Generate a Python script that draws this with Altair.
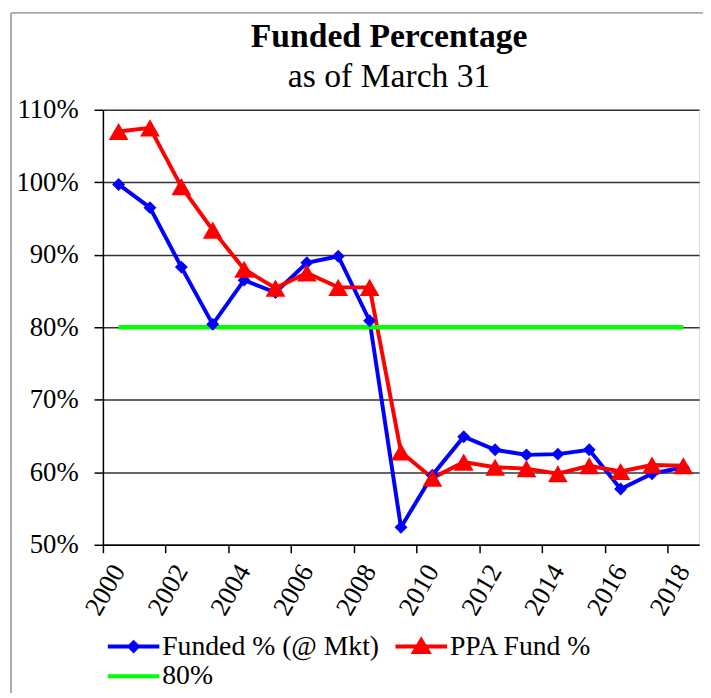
import altair as alt
import pandas as pd

# ---- data ----
years = [2000, 2001, 2002, 2003, 2004, 2005, 2006, 2007, 2008, 2009,
         2010, 2011, 2012, 2013, 2014, 2015, 2016, 2017, 2018]
funded_mkt = [99.7, 96.5, 88.3, 80.4, 86.5, 84.8, 88.9, 89.8, 80.9, 52.4,
              59.6, 64.9, 63.1, 62.4, 62.5, 63.1, 57.7, 59.8, 60.7]
ppa_fund = [107.0, 107.5, 99.4, 93.4, 88.0, 85.4, 87.5, 85.5, 85.5, 62.8,
            59.2, 61.4, 60.7, 60.5, 59.8, 60.9, 60.1, 61.0, 60.9]
target_80 = [80, 80, 80, 80, 80, 80, 80, 80, 80, 80,
             80, 80, 80, 80, 80, 80, 80, 80, 80]

series_names = ["Funded % (@ Mkt)", "PPA Fund %", "80%"]
series_colors = ["#0000FF", "#FF0000", "#00FF00"]
y_ticks = [50, 60, 70, 80, 90, 100, 110]
x_label_years = [2000, 2002, 2004, 2006, 2008, 2010, 2012, 2014, 2016, 2018]

FONT = "Liberation Serif"

rows = []
for name, vals in zip(series_names, [funded_mkt, ppa_fund, target_80]):
    for yr, v in zip(years, vals):
        rows.append({"year": yr, "value": v, "series": name})
df = pd.DataFrame(rows)

x_ticks_bound = [y - 0.5 for y in x_label_years]
x_axis_values = sorted(x_label_years + x_ticks_bound)

x_enc = alt.X(
    "year:Q",
    scale=alt.Scale(domain=[1999.5, 2018.5], nice=False, zero=False),
    axis=alt.Axis(
        values=x_axis_values,
        labelExpr="datum.value % 2 == 0 ? format(datum.value, 'd') : ''",
        tickOpacity={"condition": {"test": "datum.value % 1 != 0", "value": 1}, "value": 0},
        labelOverlap=False,
        grid=False,
        title=None,
        labelAngle=-60,
        labelAlign="right",
        labelBaseline="middle",
        labelPadding=14,
        labelFont=FONT,
        labelFontSize=27,
        labelColor="black",
        tickSize=8,
        tickColor="black",
        tickWidth=1.5,
        domainColor="black",
        domainWidth=1.5,
    ),
)
y_enc = alt.Y(
    "value:Q",
    scale=alt.Scale(domain=[50, 110], nice=False, zero=False),
    axis=alt.Axis(
        values=y_ticks,
        labelExpr="datum.value + '%'",
        title=None,
        tickSize=9,
        tickColor="black",
        tickWidth=1.5,
        domainColor="black",
        domainWidth=1.5,
        gridColor="#333333",
        gridWidth=1.5,
        labelFont=FONT,
        labelFontSize=27,
        labelColor="black",
        labelPadding=16,
    ),
)

base = alt.Chart(df)


def sel(name):
    return base.transform_filter(alt.datum.series == name)


line_blue = sel(series_names[0]).mark_line(color=series_colors[0], strokeWidth=4).encode(x=x_enc, y=y_enc)
line_red = sel(series_names[1]).mark_line(color=series_colors[1], strokeWidth=4).encode(x=x_enc, y=y_enc)
line_green = sel(series_names[2]).mark_line(color=series_colors[2], strokeWidth=4.5).encode(x=x_enc, y=y_enc)
pts_blue = sel(series_names[0]).mark_point(
    shape="diamond", filled=True, color=series_colors[0], size=170, opacity=1
).encode(x=x_enc, y=y_enc)
pts_red = sel(series_names[1]).mark_point(
    shape="triangle-up", filled=True, color=series_colors[1], size=400, opacity=1
).encode(x=x_enc, y=y_enc)

legend_paths = [
    "M-2.17,0H2.17M-0.35,0L0,-0.35L0.35,0L0,0.35Z",
    "M-2.17,0H2.17M-0.6,0.45L0,-0.55L0.6,0.45Z",
    "M-2.17,0H2.17",
]
leg = alt.Legend(
    title=None,
    orient="none",
    legendX=17,
    legendY=529,
    columns=2,
    direction="horizontal",
    symbolSize=576,
    symbolStrokeWidth=4,
    symbolOpacity=1,
    labelFont=FONT,
    labelFontSize=28,
    labelColor="black",
    labelOffset=15,
    labelLimit=0,
    columnPadding=7,
    rowPadding=2,
    padding=0,
)
legend_layer = base.transform_filter("false").mark_point(filled=True, opacity=1).encode(
    x=x_enc,
    y=y_enc,
    shape=alt.Shape("series:N", scale=alt.Scale(domain=series_names, range=legend_paths), legend=leg),
    fill=alt.Fill("series:N", scale=alt.Scale(domain=series_names, range=series_colors), legend=leg),
    stroke=alt.Stroke("series:N", scale=alt.Scale(domain=series_names, range=series_colors), legend=leg),
)

# light gray chart frame (decoration, top and left edges as in the reference)
frame_src = alt.Chart(pd.DataFrame({"k": [0]}))
frame_top = frame_src.mark_rule(color="#aaaaaa", strokeWidth=2).encode(
    x=alt.value(-93), x2=alt.value(610), y=alt.value(-98)
)
frame_left = frame_src.mark_rule(color="#aaaaaa", strokeWidth=2).encode(
    x=alt.value(-93), y=alt.value(-98), y2=alt.value(600)
)

chart = alt.layer(
    frame_top, frame_left,
    line_blue, line_red, line_green, pts_blue, pts_red, legend_layer
).properties(
    width=603,
    height=440,
    padding={"left": 96, "top": 99, "right": 4, "bottom": 146},
    autosize=alt.AutoSizeParams(type="none"),
    title=alt.TitleParams(
        text="Funded Percentage",
        subtitle="as of March 31",
        font=FONT,
        fontSize=34,
        fontWeight="bold",
        color="black",
        subtitleFont=FONT,
        subtitleFontSize=34,
        subtitleColor="black",
        subtitlePadding=6,
        anchor="middle",
        dx=-12,
        offset=-82.5,
    ),
).configure_view(stroke=None).configure(background="white")

chart.save("out.html", embed_options={"renderer": "svg", "actions": False})
